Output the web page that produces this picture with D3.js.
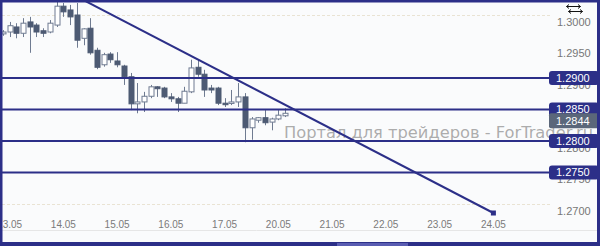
<!DOCTYPE html>
<html>
<head>
<meta charset="utf-8">
<script src="https://cdn.jsdelivr.net/npm/d3@7"></script>
<style>
body { margin: 0; background: #fff; }
svg { display: block; font-family: "Liberation Sans", Arial, sans-serif; }
</style>
</head>
<body>
<script>
// 3h candles, hour 0 = 13.05 00:00 (weekend skipped)
var candleHours = 3,
    firstHour = -3;
var opens  = [1.2970,1.2973,1.2981,1.2971,1.2989,1.2984,1.2975,1.2973,1.2984,1.3014,1.3008,1.3000,1.2963,1.2979,1.2944,1.2921,1.2938,1.2927,1.2919,1.2902,1.2859,1.2862,1.2871,1.2886,1.2884,1.2870,1.2867,1.2860,1.2878,1.2917,1.2906,1.2884,1.2884,1.2860,1.2860,1.2862,1.2870,1.2821,1.2833,1.2837,1.2830,1.2835,1.2840];
var highs  = [1.2976,1.2989,1.2987,1.2995,1.2997,1.2987,1.2979,1.2992,1.3021,1.3019,1.3016,1.3019,1.2979,1.2995,1.2948,1.2940,1.2941,1.2941,1.2921,1.2908,1.2892,1.2878,1.2889,1.2887,1.2886,1.2876,1.2870,1.2886,1.2929,1.2929,1.2913,1.2889,1.2886,1.2868,1.2881,1.2892,1.2876,1.2838,1.2838,1.2849,1.2837,1.2849,1.2852];
var lows   = [1.2967,1.2965,1.2963,1.2965,1.2940,1.2965,1.2965,1.2971,1.2981,1.2997,1.2984,1.2948,1.2952,1.2937,1.2914,1.2918,1.2924,1.2917,1.2889,1.2849,1.2844,1.2846,1.2868,1.2870,1.2868,1.2862,1.2846,1.2860,1.2876,1.2902,1.2870,1.2876,1.2857,1.2854,1.2857,1.2854,1.2798,1.2802,1.2829,1.2825,1.2817,1.2833,1.2838];
var closes = [1.2973,1.2983,1.2971,1.2987,1.2981,1.2973,1.2971,1.2987,1.3014,1.3005,1.2997,1.2960,1.2978,1.2940,1.2917,1.2937,1.2929,1.2921,1.2902,1.2859,1.2862,1.2871,1.2886,1.2883,1.2870,1.2867,1.2860,1.2879,1.2916,1.2906,1.2881,1.2881,1.2860,1.2859,1.2862,1.2870,1.2821,1.2835,1.2837,1.2829,1.2835,1.2841,1.2844];

var dayLabels = ["13.05","14.05","15.05","16.05","17.05","20.05","21.05","22.05","23.05","24.05"];
var priceTicks = [1.3000, 1.2950, 1.2900, 1.2850, 1.2800, 1.2750, 1.2700];
var gridTicks = [1.3000, 1.2700];
var levels = [1.2900, 1.2850, 1.2800, 1.2750];
// trend line: [hour, price]
var trendHours = [24, 216];
var trendPrices = [1.30403, 1.26857];
var watermark = "Портал для трейдеров - ForTrader.ru";

var navy = "#2c2f88",
    width = 600,
    height = 246;

var candles = opens.map(function(o, i) {
  return {o: o, h: highs[i], l: lows[i], c: closes[i], t: firstHour + i * candleHours};
});

var x = d3.scaleLinear()
    .domain([0, 216])
    .range([9.6, 493.4]);
var y = d3.scaleLinear()
    .domain([1.27, 1.30])
    .range([204, 15]);

var svg = d3.select("body")
    .append("svg")
    .attr("width", width)
    .attr("height", height);

svg.append("rect")
    .attr("width", width)
    .attr("height", height)
    .attr("fill", "#fafbfc");

// dashed grid
svg.append("g")
  .selectAll("line")
  .data(gridTicks)
  .enter().append("line")
    .attr("x1", 2).attr("x2", 550)
    .attr("y1", function(d) { return Math.round(y(d)) + 0.5; })
    .attr("y2", function(d) { return Math.round(y(d)) + 0.5; })
    .attr("stroke", "#e9e3d3")
    .attr("stroke-dasharray", "3,2");

// bottom separator
svg.append("line")
    .attr("x1", 0).attr("x2", width)
    .attr("y1", 230.5).attr("y2", 230.5)
    .attr("stroke", "#e6e6e6");

// watermark
svg.append("text")
    .attr("x", 284)
    .attr("y", 138)
    .attr("font-family", "DejaVu Sans, sans-serif")
    .attr("font-size", 16)
    .attr("textLength", 309)
    .attr("lengthAdjust", "spacingAndGlyphs")
    .attr("fill", "#9e9e9e")
    .attr("fill-opacity", 0.85)
    .text(watermark);

// price axis labels (drawn under the level line)
svg.append("g")
  .selectAll("text")
  .data(priceTicks)
  .enter().append("text")
    .attr("x", 557)
    .attr("y", function(d) { return y(d) + 7; })
    .attr("dy", "0.35em")
    .attr("font-size", 11)
    .attr("fill", "#777")
    .text(function(d) { return d3.format(".4f")(d); });

// date labels
svg.append("g")
  .selectAll("text")
  .data(dayLabels)
  .enter().append("text")
    .attr("x", function(d, i) { return x(i * 24); })
    .attr("y", 224)
    .attr("dy", "0.35em")
    .attr("text-anchor", "middle")
    .attr("font-size", 10)
    .attr("fill", "#7a7a7a")
    .text(function(d) { return d; });

// candles
var cg = svg.append("g")
  .selectAll("g")
  .data(candles)
  .enter().append("g");

cg.append("line")
    .attr("x1", function(d) { return Math.round(x(d.t)) + 0.5; })
    .attr("x2", function(d) { return Math.round(x(d.t)) + 0.5; })
    .attr("y1", function(d) { return y(d.h); })
    .attr("y2", function(d) { return y(d.l); })
    .attr("stroke", "#6f7b91");

cg.append("rect")
    .attr("x", function(d) { return Math.round(x(d.t)) - 2; })
    .attr("width", 5)
    .attr("y", function(d) { return y(Math.max(d.o, d.c)); })
    .attr("height", function(d) { return Math.max(1.5, Math.abs(y(d.o) - y(d.c))); })
    .attr("fill", function(d) { return d.c >= d.o ? "#ffffff" : "#4d5a73"; })
    .attr("stroke", function(d) { return d.c >= d.o ? "#6f7b91" : "#4d5a73"; })
    .attr("stroke-width", 1);

// horizontal levels
svg.append("g")
  .selectAll("line")
  .data(levels)
  .enter().append("line")
    .attr("x1", 0).attr("x2", 552)
    .attr("y1", function(d) { return y(d); })
    .attr("y2", function(d) { return y(d); })
    .attr("stroke", navy)
    .attr("stroke-width", 2);

// trend line
svg.append("line")
    .attr("x1", x(trendHours[0])).attr("y1", y(trendPrices[0]))
    .attr("x2", x(trendHours[1])).attr("y2", y(trendPrices[1]))
    .attr("stroke", navy)
    .attr("stroke-width", 2);
svg.append("rect")
    .attr("x", x(trendHours[1]) - 2.5)
    .attr("y", y(trendPrices[1]) - 2.5)
    .attr("width", 5)
    .attr("height", 5)
    .attr("fill", navy);

// level badges
var badge = svg.append("g")
  .selectAll("g")
  .data(levels)
  .enter().append("g")
    .attr("transform", function(d) { return "translate(549," + y(d) + ")"; });
badge.append("rect")
    .attr("y", -7)
    .attr("width", 50)
    .attr("height", 14)
    .attr("rx", 3)
    .attr("fill", navy);
badge.append("text")
    .attr("x", 7)
    .attr("dy", "0.36em")
    .attr("font-size", 11)
    .attr("fill", "#fff")
    .text(function(d) { return d3.format(".4f")(d); });

// last price badge
var last = closes[closes.length - 1];
var lb = svg.append("g")
    .attr("transform", "translate(549," + (y(last) + 7) + ")");
lb.append("rect")
    .attr("y", -7)
    .attr("width", 50)
    .attr("height", 15)
    .attr("rx", 2)
    .attr("fill", "#5b677a");
lb.append("text")
    .attr("x", 7)
    .attr("dy", "0.4em")
    .attr("font-size", 11)
    .attr("fill", "#fff")
    .text(d3.format(".4f")(last));

// little crosshair icon top right
var ic = svg.append("g")
    .attr("transform", "translate(566,4)")
    .attr("fill", "none")
    .attr("stroke", "#111")
    .attr("stroke-width", 1);
ic.append("path").attr("d", "M0.5,2.5 H14.5 M3,0.5 L0.5,2.5 L3,4.5 M12,0.5 L14.5,2.5 L12,4.5");
ic.append("path").attr("d", "M2.5,7.5 H16.5 M5,5.5 L2.5,7.5 L5,9.5 M14,5.5 L16.5,7.5 L14,9.5");

// frame
svg.append("path")
    .attr("d", "M1,1 H598.5 V243.5 H1 Z")
    .attr("fill", "none")
    .attr("stroke", navy)
    .attr("stroke-width", 3);
svg.append("rect")
    .attr("x", 0).attr("y", 242)
    .attr("width", width).attr("height", 4)
    .attr("fill", navy);
svg.append("rect")
    .attr("x", 337).attr("y", 243)
    .attr("width", 71).attr("height", 3)
    .attr("fill", "#5a5db2");
</script>
</body>
</html>
